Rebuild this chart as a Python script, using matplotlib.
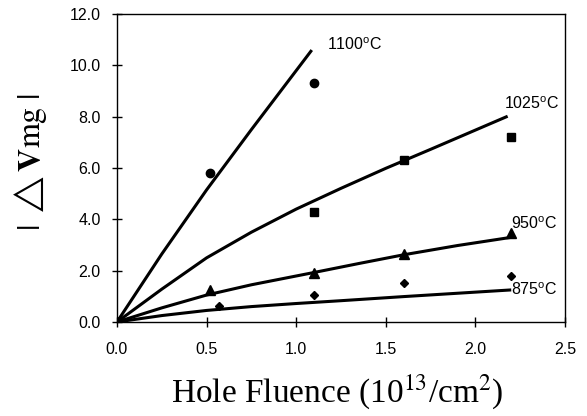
import matplotlib
matplotlib.use("Agg")
import matplotlib.pyplot as plt

# measured points
x_1100 = [0.0, 0.52, 1.10]
y_1100 = [0.0, 5.8, 9.3]
x_1025 = [0.0, 1.10, 1.60, 2.20]
y_1025 = [0.0, 4.3, 6.3, 7.2]
x_950 = [0.0, 0.52, 1.10, 1.60, 2.20]
y_950 = [0.0, 1.25, 1.9, 2.65, 3.45]
x_875 = [0.0, 0.57, 1.10, 1.60, 2.20]
y_875 = [0.0, 0.62, 1.05, 1.53, 1.8]

# fitted curves
fx_1100 = [0.0, 0.25, 0.5, 0.75, 1.087]
fy_1100 = [0.0, 2.65, 5.15, 7.5, 10.6]
fx_1025 = [0.0, 0.25, 0.5, 0.75, 1.0, 1.25, 1.5, 1.75, 2.0, 2.18]
fy_1025 = [0.0, 1.28, 2.5, 3.5, 4.4, 5.21, 5.99, 6.73, 7.48, 8.02]
fx_950 = [0.0, 0.25, 0.5, 0.75, 1.1, 1.35, 1.6, 1.9, 2.2]
fy_950 = [0.0, 0.55, 1.05, 1.45, 1.93, 2.28, 2.62, 2.98, 3.3]
fx_875 = [0.0, 0.25, 0.5, 0.75, 1.0, 1.25, 1.6, 1.9, 2.2]
fy_875 = [0.0, 0.25, 0.45, 0.6, 0.72, 0.83, 0.99, 1.12, 1.25]

labels = ["1100$^{\\rm o}$C", "1025$^{\\rm o}$C", "950$^{\\rm o}$C", "875$^{\\rm o}$C"]
label_pos = [(1.17, 10.8), (2.16, 8.5), (2.2, 3.85), (2.2, 1.25)]

xticks = [0.0, 0.5, 1.0, 1.5, 2.0, 2.5]
yticks = [0.0, 2.0, 4.0, 6.0, 8.0, 10.0, 12.0]

plt.rcParams['font.family'] = ['Liberation Sans', 'DejaVu Sans']
plt.rcParams['mathtext.fontset'] = 'custom'
plt.rcParams['mathtext.rm'] = 'Liberation Sans'

fig = plt.figure(figsize=(5.87, 4.16), dpi=100)
ax = fig.add_axes([0.1993, 0.226, 0.7632, 0.740])

for fx, fy in [(fx_1100, fy_1100), (fx_1025, fy_1025), (fx_950, fy_950), (fx_875, fy_875)]:
    ax.plot(fx, fy, color='black', lw=2.2, solid_capstyle='butt', solid_joinstyle='round')

ax.plot(x_1100, y_1100, 'o', color='black', ms=6)
ax.plot(x_1025, y_1025, 's', color='black', ms=5.5)
ax.plot(x_950, y_950, '^', color='black', ms=6.5)
ax.plot(x_875, y_875, 'D', color='black', ms=4.5)

for lab, (lx, ly) in zip(labels, label_pos):
    ax.text(lx, ly, lab, fontsize=11.5, ha='left', va='center')

ax.set_xlim(0, 2.5)
ax.set_ylim(0, 12)
ax.set_xticks(xticks)
ax.set_yticks(yticks)
ax.set_xticklabels(["%.1f" % v for v in xticks])
ax.set_yticklabels(["%.1f" % v for v in yticks])
ax.tick_params(direction='inout', length=7.5, width=1, labelsize=11.5)
ax.tick_params(axis='x', pad=11)
ax.tick_params(axis='y', pad=8)
for s in ax.spines.values():
    s.set_linewidth(1)

fig.text(0.052, 0.61, r"$|\ \triangle\mathbf{V}\mathrm{mg}\ |$", rotation=90,
         ha='center', va='center', fontsize=23, math_fontfamily='stix')
fig.text(0.575, 0.058, "Hole Fluence (10$^{13}$/cm$^{2}$)", ha='center', va='center',
         fontsize=24, family=['Liberation Serif'], math_fontfamily='stix')

fig.savefig("out.png", dpi=100)
